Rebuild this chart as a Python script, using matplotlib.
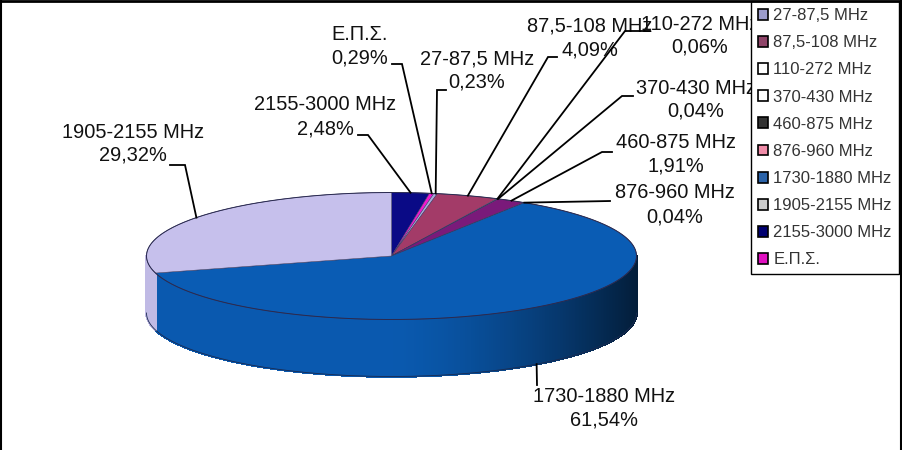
import numpy as np
import matplotlib
matplotlib.use("Agg")
import matplotlib.pyplot as plt
from matplotlib.patches import Polygon, Patch
from matplotlib.collections import PolyCollection

plt.rcParams['font.family'] = ['Liberation Sans', 'DejaVu Sans']

# Data, in the order the slices run clockwise from the top of the pie
categories = ["2155-3000 MHz", "Ε.Π.Σ.", "27-87,5 MHz", "87,5-108 MHz", "110-272 MHz",
              "370-430 MHz", "460-875 MHz", "876-960 MHz", "1730-1880 MHz", "1905-2155 MHz"]
values = [2.48, 0.29, 0.23, 4.09, 0.06, 0.04, 1.91, 0.04, 61.54, 29.32]
value_labels = ["2,48%", "0,29%", "0,23%", "4,09%", "0,06%", "0,04%", "1,91%", "0,04%", "61,54%", "29,32%"]
colors = ["#0A0A86", "#F018D0", "#A8A8DC", "#A33B68", "#F4F0F8", "#F4F0F8", "#7A1A7A", "#F08080", "#0A5CB4", "#C6C0EC"]
legend_order = ["27-87,5 MHz", "87,5-108 MHz", "110-272 MHz", "370-430 MHz", "460-875 MHz",
                "876-960 MHz", "1730-1880 MHz", "1905-2155 MHz", "2155-3000 MHz", "Ε.Π.Σ."]
legend_colors = ["#9C9CCC", "#8E4468", "#FFFFFF", "#FFFFFF", "#333333",
                 "#F08CA8", "#2A62A8", "#CCCCCC", "#000070", "#E010C0"]

# Layout (pixels)
W, H = 902, 450
CX, CY, A, B, DEPTH = 391.5, 256, 245, 63.5, 57
label_pos = {"2155-3000 MHz": (325, 105, 129), "Ε.Π.Σ.": (360, 35, 58), "27-87,5 MHz": (477, 59, 82),
             "87,5-108 MHz": (590, 26, 50), "110-272 MHz": (700, 24, 47), "370-430 MHz": (696, 88, 111),
             "460-875 MHz": (676, 143, 166), "876-960 MHz": (675, 193, 217),
             "1730-1880 MHz": (604, 397, 420), "1905-2155 MHz": (133, 132, 155)}
leader_elbows = {"2155-3000 MHz": [(358, 135), (368, 135)], "Ε.Π.Σ.": [(392, 64), (402, 64)],
                 "27-87,5 MHz": [(446, 90), (437, 90)], "87,5-108 MHz": [(557, 57), (548, 57)],
                 "110-272 MHz": [(650, 31), (625, 31)], "370-430 MHz": [(633, 96), (622, 96)],
                 "460-875 MHz": [(612, 152), (602, 152)], "876-960 MHz": [(610, 201)],
                 "1730-1880 MHz": [(537, 385)], "1905-2155 MHz": [(170, 165), (185, 165)]}

fig = plt.figure(figsize=(W / 100, H / 100), dpi=100)
ax = fig.add_axes([0, 0, 1, 1])
ax.set_xlim(0, W)
ax.set_ylim(H, 0)
ax.axis("off")

def ell(t, dy=0):
    return CX + A * np.sin(t), CY + dy - B * np.cos(t) * np.ones_like(t)

def mix(c, f):
    return tuple(x * f for x in matplotlib.colors.to_rgb(c))

edges = np.cumsum([0] + values) / sum(values) * 2 * np.pi

# Side wall: only the front half of the rim shows
for i, c in enumerate(colors):
    lo, hi = max(edges[i], np.pi / 2), min(edges[i + 1], 3 * np.pi / 2)
    if lo >= hi:
        continue
    ts = np.linspace(lo, hi, int(np.degrees(hi - lo)) * 2 + 2)
    quads, cols = [], []
    for t0, t1 in zip(ts[:-1], ts[1:]):
        x0, y0 = ell(t0)
        x1, y1 = ell(t1)
        quads.append([(x0, y0), (x1, y1), (x1, y1 + DEPTH), (x0, y0 + DEPTH)])
        s = np.clip((x0 - CX) / A, 0, 1)
        f = 0.97 - 0.65 * s ** 1.5
        cols.append(mix(c, f))
    ax.add_collection(PolyCollection(quads, facecolors=cols, edgecolors=cols, linewidths=1.2,
                                     antialiaseds=False, zorder=2))

# Top faces
for i, c in enumerate(colors):
    ts = np.linspace(edges[i], edges[i + 1], max(3, int(np.degrees(edges[i + 1] - edges[i])) * 2))
    x, y = ell(ts)
    ax.add_patch(Polygon(np.r_[[(CX, CY)], np.c_[x, y]], closed=True, fc=c, ec="#3A3A60", lw=0.35, zorder=3))

# Outer outline
ts = np.linspace(0, 2 * np.pi, 400)
x, y = ell(ts)
ax.plot(x, y, color="#2A2A50", lw=0.7, zorder=4)
ts = np.linspace(np.pi / 2, 3 * np.pi / 2, 200)
x, y = ell(ts, DEPTH)
ax.plot(x, y, color="#1A2A50", lw=0.6, zorder=4)

# Labels and leaders
for i, name in enumerate(categories):
    tc, y1, y2 = label_pos[name]
    ax.text(tc, y1, name, ha="center", va="center", fontsize=14.4, color="#111111", zorder=6)
    ax.text(tc, y2, value_labels[i], ha="center", va="center", fontsize=14.4, color="#111111", zorder=6)
    tm = (edges[i] + edges[i + 1]) / 2
    ex, ey = ell(tm, DEPTH if name == "1730-1880 MHz" else 0)
    pts = leader_elbows[name] + [(float(ex), float(ey))]
    ax.plot(*zip(*pts), color="black", lw=1.3, zorder=7, solid_joinstyle="miter")

# Frame along the top, left and right of the picture
ax.plot([0, W], [0.5, 0.5], color="black", lw=2, zorder=8)
ax.plot([0.5, 0.5], [0, H], color="black", lw=1.5, zorder=8)
ax.plot([W - 1, W - 1], [0, H], color="black", lw=1.5, zorder=8)

# Legend
handles = [Patch(facecolor=c, edgecolor="black", linewidth=1.2, label=n) for n, c in zip(legend_order, legend_colors)]
leg = ax.legend(handles=handles, loc="upper left", bbox_to_anchor=(751 / W, 1 - 1 / H), bbox_transform=ax.transAxes,
                fontsize=12, frameon=True, fancybox=False, framealpha=1, facecolor="white", edgecolor="black",
                handlelength=0.62, handleheight=0.62, handletextpad=0.3, labelspacing=0.73, borderpad=0.42,
                borderaxespad=0, labelcolor="#333333")
leg.set_zorder(7.5)
leg.get_frame().set_linewidth(1)

fig.savefig("out.png", dpi=100)
